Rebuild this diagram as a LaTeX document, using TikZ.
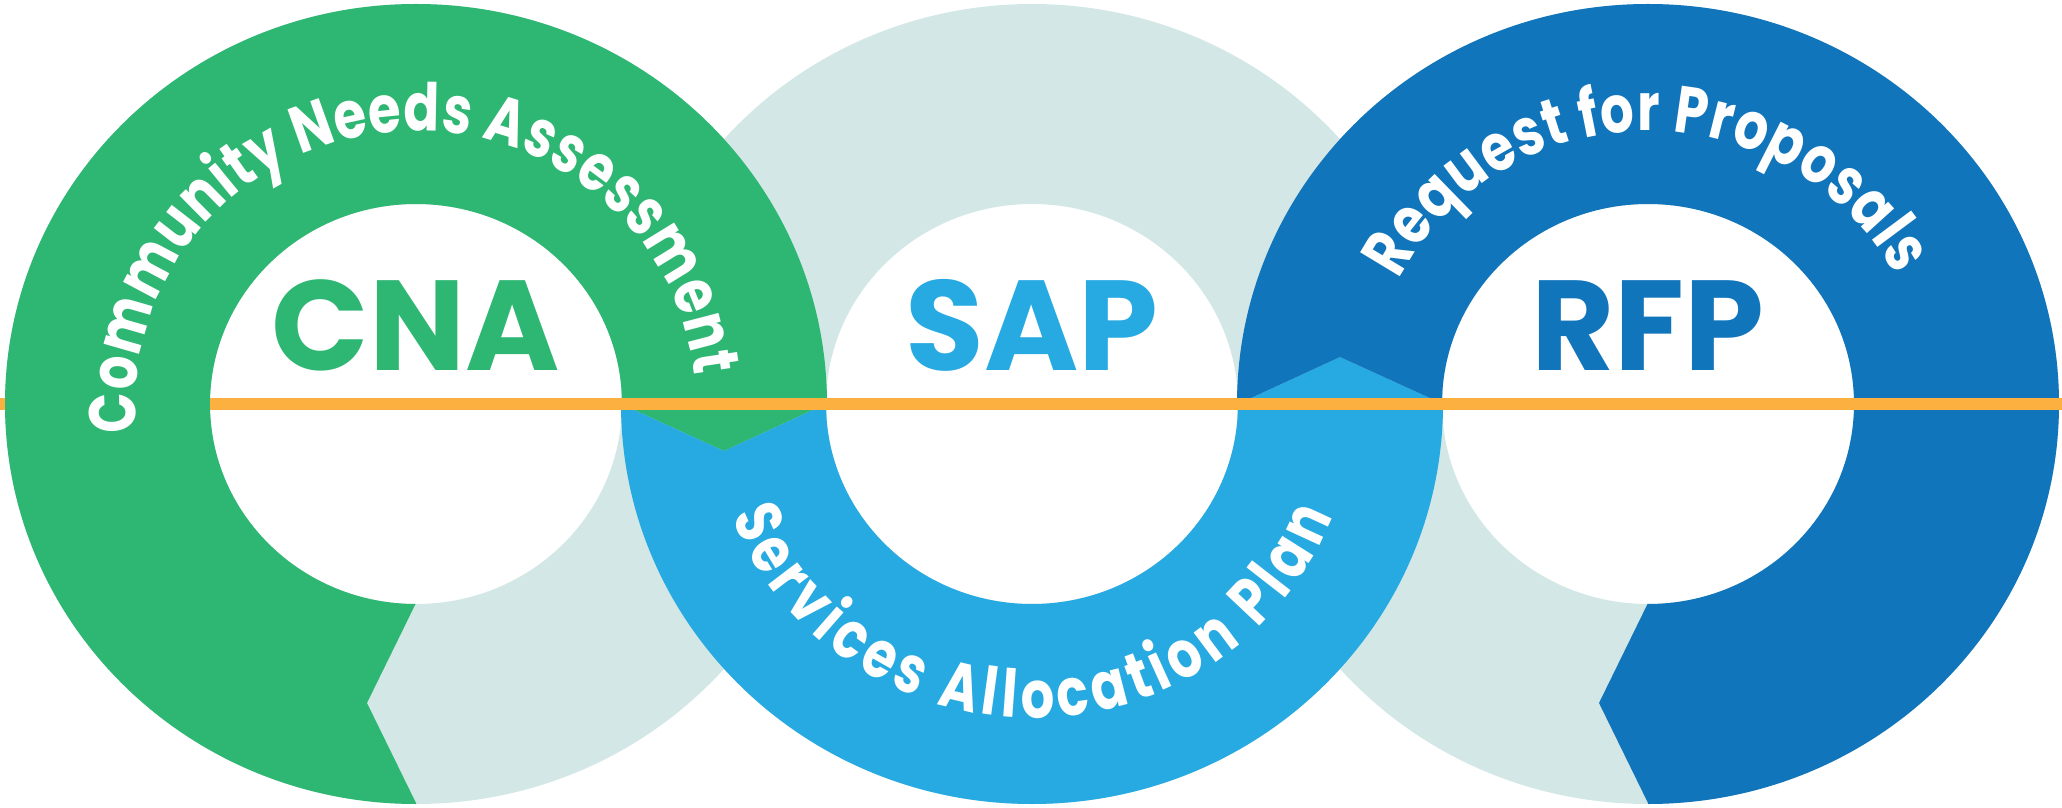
\documentclass[tikz,border=0pt]{standalone}
\usepackage{fontspec}
\usetikzlibrary{decorations.text}
\newfontfamily\ringfont{Poppins}
\newfontfamily\arcfamily{Poppins}[FakeStretch=0.8]
\newcommand{\arcfont}{\arcfamily\bfseries\fontsize{66}{66}\selectfont}
\definecolor{cnagreen}{HTML}{2EB673}
\definecolor{sapblue}{HTML}{27AAE1}
\definecolor{rfpblue}{HTML}{1175BC}
\definecolor{ringgray}{HTML}{D3E8E6}
\definecolor{lineorange}{HTML}{FBB040}
\tikzset{
  ringfill/.style={even odd rule},
  acronym/.style={anchor=base, inner sep=0pt, font=\ringfont\bfseries\fontsize{128}{128}\selectfont},
  arclabel/.style={decorate, decoration={text along path, text align=fit to path, text color=white, text={|\arcfont|#1}}}
}
\begin{document}
\begin{tikzpicture}[x=1pt, y=1pt]
        \useasboundingbox (0,0) rectangle (2062,807);
        \coordinate (cna) at (416,403);
        \coordinate (sap) at (1032,403);
        \coordinate (rfp) at (1648,403);

        % pale rings underneath
        \foreach \c in {cna,sap,rfp}
            \fill[ringgray, ringfill] (\c) ellipse [x radius=411, y radius=400] (\c) ellipse [x radius=206, y radius=200];

        % green arrow
        \begin{scope}
            \clip (416,403) -- (416,204) -- (367,104) -- (416,4) -- (416,-10) -- (-10,-10) -- (-10,820) -- (850,820) -- (850,403) -- (826,403) -- (724,356) -- (621,403) -- cycle;
            \fill[cnagreen, ringfill] (cna) ellipse [x radius=411, y radius=400] (cna) ellipse [x radius=206, y radius=200];
        \end{scope}

        % light blue arrow
        \begin{scope}
            \clip (600,403) -- (621,403) -- (724,356) -- (826,403) -- (1238,403) -- (1340,450) -- (1443,403) -- (1460,403) -- (1460,-10) -- (600,-10) -- cycle;
            \fill[sapblue, ringfill] (sap) ellipse [x radius=411, y radius=400] (sap) ellipse [x radius=206, y radius=200];
        \end{scope}

        % dark blue arrow
        \begin{scope}
            \clip (1648,403) -- (1648,204) -- (1599,104) -- (1648,4) -- (1648,-10) -- (2080,-10) -- (2080,820) -- (1220,820) -- (1220,403) -- (1238,403) -- (1340,450) -- (1443,403) -- cycle;
            \fill[rfpblue, ringfill] (rfp) ellipse [x radius=411, y radius=400] (rfp) ellipse [x radius=206, y radius=200];
        \end{scope}

        % orange line
        \draw[lineorange, line width=12] (0,403) -- (5,403);
        \draw[lineorange, line width=12] (210,403) -- (2062,403);

        \node[acronym, text=cnagreen] (cnatext) at (416,436) {CNA};
        \node[acronym, text=sapblue] (saptext) at (1032,436) {SAP};
        \node[acronym, text=rfpblue] (rfptext) at (1648,436) {RFP};

        \path[arclabel={Community Needs Assessment}] (cna) ++(186:280 and 273) arc [start angle=186, end angle=6, x radius=280, y radius=273];
        \path[arclabel={Services Allocation Plan}] (sap) ++(201:322 and 314) arc [start angle=201, end angle=339, x radius=322, y radius=314];
        \path[arclabel={Request for Proposals}] (rfp) ++(153:280 and 273) arc [start angle=153, end angle=28, x radius=280, y radius=273];
\end{tikzpicture}
\end{document}
